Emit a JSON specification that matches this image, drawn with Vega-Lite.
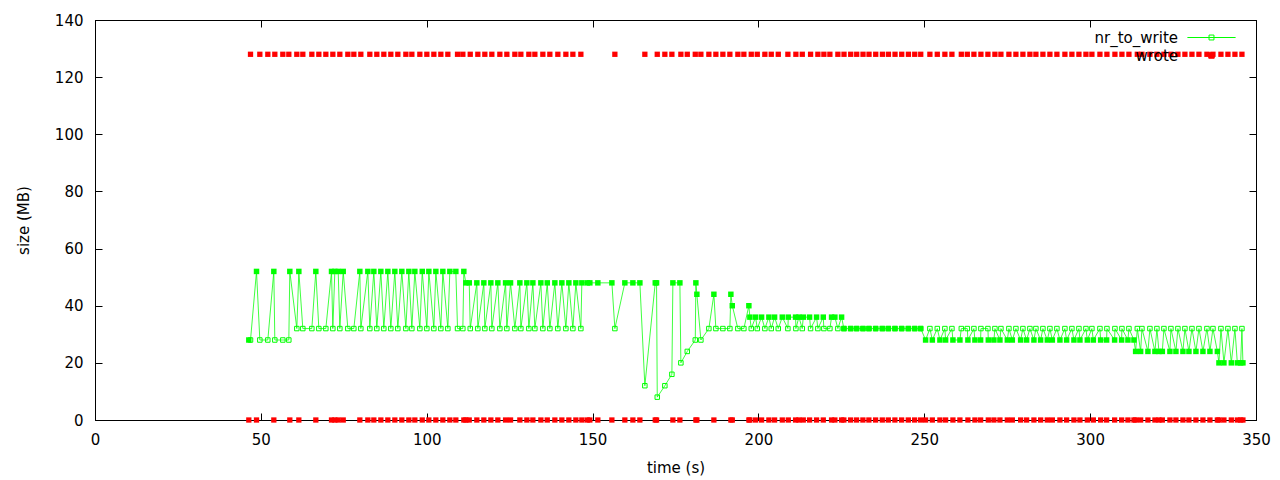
{
  "$schema": "https://vega.github.io/schema/vega-lite/v6.json",
  "width": 1161,
  "height": 400,
  "autosize": {"type": "none"},
  "padding": {"left": 95, "top": 20, "right": 24, "bottom": 60},
  "background": "white",
  "config": {
    "font": "DejaVu Sans",
    "view": {"stroke": "black", "strokeWidth": 1},
    "axis": {
      "grid": false, "domainColor": "black", "domainWidth": 1,
      "tickColor": "black", "tickWidth": 1, "tickSize": -7, "labelFlush": false,
      "labelColor": "black", "labelFont": "DejaVu Sans", "labelFontSize": 15, "labelPadding": 19,
      "titleColor": "black", "titleFont": "DejaVu Sans", "titleFontSize": 15, "titleFontWeight": "normal"
    }
  },
  "data": {"values": [
    {"t":46.37,"nr_to_write":28,"wrote":0},{"t":46.88,"nr_to_write":28,"wrote":128},{"t":48.69,"nr_to_write":52,"wrote":0},{"t":49.69,"nr_to_write":28,"wrote":128},
    {"t":52.10,"nr_to_write":28,"wrote":128},{"t":53.91,"nr_to_write":52,"wrote":0},{"t":54.21,"nr_to_write":28,"wrote":128},{"t":56.62,"nr_to_write":28,"wrote":128},
    {"t":58.43,"nr_to_write":28,"wrote":128},{"t":58.73,"nr_to_write":52,"wrote":0},{"t":60.84,"nr_to_write":32,"wrote":128},{"t":61.45,"nr_to_write":52,"wrote":0},
    {"t":62.65,"nr_to_write":32,"wrote":128},{"t":65.37,"nr_to_write":32,"wrote":128},{"t":66.57,"nr_to_write":52,"wrote":0},{"t":67.48,"nr_to_write":32,"wrote":128},
    {"t":69.59,"nr_to_write":32,"wrote":128},{"t":71.30,"nr_to_write":52,"wrote":0},{"t":71.70,"nr_to_write":32,"wrote":128},{"t":72.30,"nr_to_write":52,"wrote":0},
    {"t":73.32,"nr_to_write":52,"wrote":0},{"t":73.81,"nr_to_write":32,"wrote":128},{"t":74.83,"nr_to_write":52,"wrote":0},{"t":76.22,"nr_to_write":32,"wrote":128},
    {"t":78.03,"nr_to_write":32,"wrote":128},{"t":79.84,"nr_to_write":52,"wrote":0},{"t":80.14,"nr_to_write":32,"wrote":128},{"t":82.25,"nr_to_write":52,"wrote":0},
    {"t":82.85,"nr_to_write":32,"wrote":128},{"t":84.06,"nr_to_write":52,"wrote":0},{"t":84.96,"nr_to_write":32,"wrote":128},{"t":86.17,"nr_to_write":52,"wrote":0},
    {"t":87.07,"nr_to_write":32,"wrote":128},{"t":88.28,"nr_to_write":52,"wrote":0},{"t":89.18,"nr_to_write":32,"wrote":128},{"t":90.39,"nr_to_write":52,"wrote":0},
    {"t":91.29,"nr_to_write":32,"wrote":128},{"t":92.50,"nr_to_write":52,"wrote":0},{"t":93.71,"nr_to_write":32,"wrote":128},{"t":94.61,"nr_to_write":52,"wrote":0},
    {"t":95.52,"nr_to_write":32,"wrote":128},{"t":96.42,"nr_to_write":52,"wrote":0},{"t":97.93,"nr_to_write":32,"wrote":128},{"t":98.65,"nr_to_write":52,"wrote":0},
    {"t":100.04,"nr_to_write":32,"wrote":128},{"t":100.64,"nr_to_write":52,"wrote":0},{"t":102.15,"nr_to_write":32,"wrote":128},{"t":102.75,"nr_to_write":52,"wrote":0},
    {"t":104.26,"nr_to_write":32,"wrote":128},{"t":104.86,"nr_to_write":52,"wrote":0},{"t":106.37,"nr_to_write":32,"wrote":128},{"t":106.97,"nr_to_write":52,"wrote":0},
    {"t":108.78,"nr_to_write":52,"wrote":0},{"t":109.29,"nr_to_write":32,"wrote":128},{"t":110.89,"nr_to_write":32,"wrote":128},{"t":111.19,"nr_to_write":52,"wrote":0},
    {"t":111.80,"nr_to_write":48,"wrote":0},{"t":112.82,"nr_to_write":48,"wrote":0},{"t":113.12,"nr_to_write":32,"wrote":128},{"t":115.11,"nr_to_write":48,"wrote":0},
    {"t":115.41,"nr_to_write":32,"wrote":128},{"t":117.22,"nr_to_write":48,"wrote":0},{"t":117.52,"nr_to_write":32,"wrote":128},{"t":119.33,"nr_to_write":48,"wrote":0},
    {"t":119.63,"nr_to_write":32,"wrote":128},{"t":121.44,"nr_to_write":48,"wrote":0},{"t":122.05,"nr_to_write":32,"wrote":128},{"t":123.77,"nr_to_write":48,"wrote":0},
    {"t":124.16,"nr_to_write":32,"wrote":128},{"t":125.27,"nr_to_write":48,"wrote":0},{"t":126.57,"nr_to_write":32,"wrote":128},{"t":128.08,"nr_to_write":48,"wrote":0},
    {"t":128.38,"nr_to_write":32,"wrote":128},{"t":130.19,"nr_to_write":48,"wrote":0},{"t":130.79,"nr_to_write":32,"wrote":128},{"t":132.00,"nr_to_write":48,"wrote":0},
    {"t":132.60,"nr_to_write":32,"wrote":128},{"t":134.41,"nr_to_write":48,"wrote":0},{"t":135.01,"nr_to_write":32,"wrote":128},{"t":136.34,"nr_to_write":48,"wrote":0},
    {"t":137.12,"nr_to_write":32,"wrote":128},{"t":138.63,"nr_to_write":48,"wrote":0},{"t":139.53,"nr_to_write":32,"wrote":128},{"t":140.74,"nr_to_write":48,"wrote":0},
    {"t":141.95,"nr_to_write":32,"wrote":128},{"t":142.85,"nr_to_write":48,"wrote":0},{"t":144.06,"nr_to_write":32,"wrote":128},{"t":144.96,"nr_to_write":48,"wrote":0},
    {"t":146.47,"nr_to_write":32,"wrote":128},{"t":146.77,"nr_to_write":48,"wrote":0},{"t":148.40,"nr_to_write":48,"wrote":0},{"t":149.18,"nr_to_write":48,"wrote":0},
    {"t":151.59,"nr_to_write":48,"wrote":0},{"t":155.82,"nr_to_write":48,"wrote":0},{"t":156.72,"nr_to_write":32,"wrote":128},{"t":159.73,"nr_to_write":48,"wrote":0},
    {"t":162.15,"nr_to_write":48,"wrote":0},{"t":164.26,"nr_to_write":48,"wrote":0},{"t":165.76,"nr_to_write":12,"wrote":128},{"t":168.90,"nr_to_write":48,"wrote":0},
    {"t":169.29,"nr_to_write":48,"wrote":0},{"t":169.50,"nr_to_write":8,"wrote":128},{"t":171.79,"nr_to_write":12,"wrote":128},{"t":173.91,"nr_to_write":16,"wrote":128},
    {"t":174.21,"nr_to_write":48,"wrote":0},{"t":176.32,"nr_to_write":48,"wrote":0},{"t":176.62,"nr_to_write":20,"wrote":128},{"t":178.55,"nr_to_write":24,"wrote":128},
    {"t":180.96,"nr_to_write":28,"wrote":128},{"t":181.14,"nr_to_write":48,"wrote":0},{"t":181.44,"nr_to_write":44,"wrote":0},{"t":182.65,"nr_to_write":28,"wrote":128},
    {"t":185.06,"nr_to_write":32,"wrote":128},{"t":186.57,"nr_to_write":44,"wrote":0},{"t":187.17,"nr_to_write":32,"wrote":128},{"t":189.28,"nr_to_write":32,"wrote":128},
    {"t":191.39,"nr_to_write":32,"wrote":128},{"t":191.69,"nr_to_write":44,"wrote":0},{"t":192.12,"nr_to_write":40,"wrote":0},{"t":193.80,"nr_to_write":32,"wrote":128},
    {"t":195.61,"nr_to_write":32,"wrote":128},{"t":197.12,"nr_to_write":40,"wrote":0},{"t":197.42,"nr_to_write":36,"wrote":0},{"t":197.84,"nr_to_write":32,"wrote":128},
    {"t":199.14,"nr_to_write":36,"wrote":0},{"t":199.65,"nr_to_write":32,"wrote":128},{"t":200.95,"nr_to_write":36,"wrote":0},{"t":201.94,"nr_to_write":32,"wrote":128},
    {"t":203.15,"nr_to_write":36,"wrote":0},{"t":203.87,"nr_to_write":32,"wrote":128},{"t":204.87,"nr_to_write":36,"wrote":0},{"t":205.98,"nr_to_write":32,"wrote":128},
    {"t":207.19,"nr_to_write":36,"wrote":0},{"t":208.88,"nr_to_write":32,"wrote":128},{"t":209.00,"nr_to_write":36,"wrote":0},{"t":211.20,"nr_to_write":36,"wrote":0},
    {"t":211.29,"nr_to_write":32,"wrote":128},{"t":212.20,"nr_to_write":36,"wrote":0},{"t":213.22,"nr_to_write":32,"wrote":128},{"t":213.52,"nr_to_write":36,"wrote":0},
    {"t":215.42,"nr_to_write":36,"wrote":0},{"t":215.72,"nr_to_write":32,"wrote":128},{"t":217.53,"nr_to_write":36,"wrote":0},{"t":217.92,"nr_to_write":32,"wrote":128},
    {"t":219.55,"nr_to_write":36,"wrote":0},{"t":219.73,"nr_to_write":32,"wrote":128},{"t":221.54,"nr_to_write":32,"wrote":128},{"t":222.05,"nr_to_write":36,"wrote":0},
    {"t":223.05,"nr_to_write":36,"wrote":0},{"t":223.95,"nr_to_write":32,"wrote":128},{"t":225.07,"nr_to_write":36,"wrote":0},
    {"t":225.76,"nr_to_write":32,"wrote":0},{"t":225.80,"nr_to_write":32,"wrote":128},
    {"t":227.78,"nr_to_write":32,"wrote":0},{"t":227.82,"nr_to_write":32,"wrote":128},
    {"t":229.59,"nr_to_write":32,"wrote":0},{"t":229.63,"nr_to_write":32,"wrote":128},
    {"t":231.49,"nr_to_write":32,"wrote":0},{"t":231.53,"nr_to_write":32,"wrote":128},
    {"t":233.30,"nr_to_write":32,"wrote":0},{"t":233.34,"nr_to_write":32,"wrote":128},
    {"t":235.32,"nr_to_write":32,"wrote":0},{"t":235.36,"nr_to_write":32,"wrote":128},
    {"t":237.34,"nr_to_write":32,"wrote":0},{"t":237.38,"nr_to_write":32,"wrote":128},
    {"t":239.15,"nr_to_write":32,"wrote":0},{"t":239.19,"nr_to_write":32,"wrote":128},
    {"t":241.14,"nr_to_write":32,"wrote":0},{"t":241.18,"nr_to_write":32,"wrote":128},
    {"t":243.16,"nr_to_write":32,"wrote":0},{"t":243.20,"nr_to_write":32,"wrote":128},
    {"t":245.18,"nr_to_write":32,"wrote":0},{"t":245.22,"nr_to_write":32,"wrote":128},
    {"t":247.08,"nr_to_write":32,"wrote":0},{"t":247.12,"nr_to_write":32,"wrote":128},
    {"t":248.89,"nr_to_write":32,"wrote":0},{"t":248.93,"nr_to_write":32,"wrote":128},
    {"t":250.40,"nr_to_write":28,"wrote":0},{"t":251.69,"nr_to_write":32,"wrote":128},{"t":252.42,"nr_to_write":28,"wrote":0},{"t":253.92,"nr_to_write":32,"wrote":128},
    {"t":254.71,"nr_to_write":28,"wrote":0},{"t":256.21,"nr_to_write":32,"wrote":128},{"t":256.43,"nr_to_write":28,"wrote":0},{"t":258.33,"nr_to_write":32,"wrote":128},
    {"t":258.63,"nr_to_write":28,"wrote":0},{"t":260.74,"nr_to_write":28,"wrote":0},{"t":261.16,"nr_to_write":32,"wrote":128},{"t":262.97,"nr_to_write":32,"wrote":128},
    {"t":263.15,"nr_to_write":28,"wrote":0},{"t":264.96,"nr_to_write":32,"wrote":128},{"t":265.26,"nr_to_write":28,"wrote":0},{"t":266.98,"nr_to_write":28,"wrote":0},
    {"t":267.07,"nr_to_write":32,"wrote":128},{"t":269.18,"nr_to_write":32,"wrote":128},{"t":269.30,"nr_to_write":28,"wrote":0},{"t":270.99,"nr_to_write":28,"wrote":0},
    {"t":271.29,"nr_to_write":32,"wrote":128},{"t":272.80,"nr_to_write":28,"wrote":0},{"t":273.10,"nr_to_write":32,"wrote":128},{"t":275.03,"nr_to_write":28,"wrote":0},
    {"t":275.51,"nr_to_write":32,"wrote":128},{"t":276.54,"nr_to_write":28,"wrote":0},{"t":277.62,"nr_to_write":32,"wrote":128},{"t":279.04,"nr_to_write":28,"wrote":0},
    {"t":279.73,"nr_to_write":32,"wrote":128},{"t":280.85,"nr_to_write":28,"wrote":0},{"t":281.84,"nr_to_write":32,"wrote":128},{"t":283.05,"nr_to_write":28,"wrote":0},
    {"t":283.65,"nr_to_write":32,"wrote":128},{"t":285.07,"nr_to_write":28,"wrote":0},{"t":285.76,"nr_to_write":32,"wrote":128},{"t":287.09,"nr_to_write":28,"wrote":0},
    {"t":287.87,"nr_to_write":32,"wrote":128},{"t":288.60,"nr_to_write":28,"wrote":0},{"t":289.98,"nr_to_write":32,"wrote":128},{"t":290.89,"nr_to_write":28,"wrote":0},
    {"t":292.39,"nr_to_write":32,"wrote":128},{"t":292.91,"nr_to_write":28,"wrote":0},{"t":294.50,"nr_to_write":32,"wrote":128},{"t":295.11,"nr_to_write":28,"wrote":0},
    {"t":296.62,"nr_to_write":32,"wrote":128},{"t":296.92,"nr_to_write":28,"wrote":0},{"t":298.73,"nr_to_write":32,"wrote":128},{"t":299.15,"nr_to_write":28,"wrote":0},
    {"t":300.53,"nr_to_write":32,"wrote":128},{"t":300.96,"nr_to_write":28,"wrote":0},{"t":302.95,"nr_to_write":32,"wrote":128},{"t":303.16,"nr_to_write":28,"wrote":0},
    {"t":304.97,"nr_to_write":28,"wrote":0},{"t":305.06,"nr_to_write":32,"wrote":128},{"t":307.38,"nr_to_write":28,"wrote":0},{"t":307.47,"nr_to_write":32,"wrote":128},
    {"t":309.49,"nr_to_write":28,"wrote":0},{"t":309.58,"nr_to_write":32,"wrote":128},{"t":311.39,"nr_to_write":28,"wrote":0},{"t":311.69,"nr_to_write":32,"wrote":128},
    {"t":313.20,"nr_to_write":28,"wrote":0},{"t":313.71,"nr_to_write":24,"wrote":0},{"t":314.22,"nr_to_write":32,"wrote":128},{"t":315.22,"nr_to_write":24,"wrote":0},
    {"t":315.61,"nr_to_write":32,"wrote":128},{"t":317.42,"nr_to_write":24,"wrote":0},{"t":318.02,"nr_to_write":32,"wrote":128},{"t":319.53,"nr_to_write":24,"wrote":0},
    {"t":320.13,"nr_to_write":32,"wrote":128},{"t":320.74,"nr_to_write":24,"wrote":0},{"t":321.76,"nr_to_write":24,"wrote":0},{"t":322.24,"nr_to_write":32,"wrote":128},
    {"t":324.05,"nr_to_write":24,"wrote":0},{"t":324.35,"nr_to_write":32,"wrote":128},{"t":325.86,"nr_to_write":24,"wrote":0},{"t":326.46,"nr_to_write":32,"wrote":128},
    {"t":327.97,"nr_to_write":24,"wrote":0},{"t":328.57,"nr_to_write":32,"wrote":128},{"t":329.78,"nr_to_write":24,"wrote":0},{"t":330.69,"nr_to_write":32,"wrote":128},
    {"t":331.89,"nr_to_write":24,"wrote":0},{"t":332.80,"nr_to_write":32,"wrote":128},{"t":334.00,"nr_to_write":24,"wrote":0},{"t":335.21,"nr_to_write":32,"wrote":128},
    {"t":336.11,"nr_to_write":24,"wrote":0},{"t":337.02,"nr_to_write":32,"wrote":128},{"t":338.35,"nr_to_write":24,"wrote":0},{"t":338.83,"nr_to_write":20,"wrote":0},
    {"t":339.43,"nr_to_write":32,"wrote":128},{"t":340.33,"nr_to_write":20,"wrote":0},{"t":341.54,"nr_to_write":32,"wrote":128},{"t":342.56,"nr_to_write":20,"wrote":0},
    {"t":343.65,"nr_to_write":32,"wrote":128},{"t":344.37,"nr_to_write":20,"wrote":0},{"t":345.37,"nr_to_write":20,"wrote":0},{"t":345.76,"nr_to_write":32,"wrote":128},
    {"t":346.06,"nr_to_write":20,"wrote":0}
  ]},
  "resolve": {"axis": {"x": "independent", "y": "independent"}},
  "layer": [
    {
      "mark": {"type": "line", "strokeWidth": 1, "strokeOpacity": 0.75, "interpolate": "linear"},
      "encoding": {
        "x": {"field": "t", "type": "quantitative", "scale": {"domain": [0, 350], "nice": false, "zero": false},
              "axis": {"orient": "bottom", "values": [0, 50, 100, 150, 200, 250, 300, 350], "title": "time (s)", "titlePadding": 13}},
        "y": {"field": "nr_to_write", "type": "quantitative", "scale": {"domain": [0, 140], "nice": false},
              "axis": {"orient": "left", "values": [0, 20, 40, 60, 80, 100, 120, 140], "title": "size (MB)", "titlePadding": 23}},
        "color": {"datum": "nr_to_write", "type": "nominal",
          "scale": {"domain": ["nr_to_write", "wrote"], "range": ["#00ff00", "#ff0000"]},
          "legend": {
            "orient": "none", "legendX": 1109, "legendY": 10, "title": null, "padding": 0,
            "labelAlign": "right", "labelOffset": -41, "labelFont": "DejaVu Sans", "labelFontSize": 15, "labelColor": "black",
            "symbolSize": 30, "symbolStrokeWidth": 1, "rowPadding": 2,
            "encode": {"symbols": {"update": {
              "shape": {"signal": "datum.value === 'wrote' ? 'M-1,-1H1V1H-1Z' : 'M-8.8,0H8.8M-0.9,-0.9H0.9V0.9H-0.9Z'"},
              "fillOpacity": {"signal": "datum.value === 'wrote' ? 1 : 0"},
              "opacity": {"value": 1}, "strokeOpacity": {"value": 1}
            }}}
          }
        }
      }
    },
    {
      "transform": [{"filter": "datum.wrote == 128"}],
      "mark": {"type": "point", "shape": "square", "filled": false, "size": 20, "strokeWidth": 1, "opacity": 1},
      "encoding": {
        "x": {"field": "t", "type": "quantitative", "axis": null},
        "y": {"field": "nr_to_write", "type": "quantitative", "axis": null},
        "color": {"datum": "nr_to_write", "type": "nominal"}
      }
    },
    {
      "transform": [{"filter": "datum.wrote == 0"}],
      "mark": {"type": "square", "size": 30, "opacity": 1},
      "encoding": {
        "x": {"field": "t", "type": "quantitative", "axis": null},
        "y": {"field": "nr_to_write", "type": "quantitative", "axis": null},
        "color": {"datum": "nr_to_write", "type": "nominal"}
      }
    },
    {
      "mark": {"type": "square", "size": 28, "opacity": 1},
      "encoding": {
        "x": {"field": "t", "type": "quantitative",
              "axis": {"orient": "top", "values": [0, 50, 100, 150, 200, 250, 300, 350], "labels": false, "title": null}},
        "y": {"field": "wrote", "type": "quantitative",
              "axis": {"orient": "right", "values": [0, 20, 40, 60, 80, 100, 120, 140], "labels": false, "title": null}},
        "color": {"datum": "wrote", "type": "nominal"}
      }
    }
  ]
}
